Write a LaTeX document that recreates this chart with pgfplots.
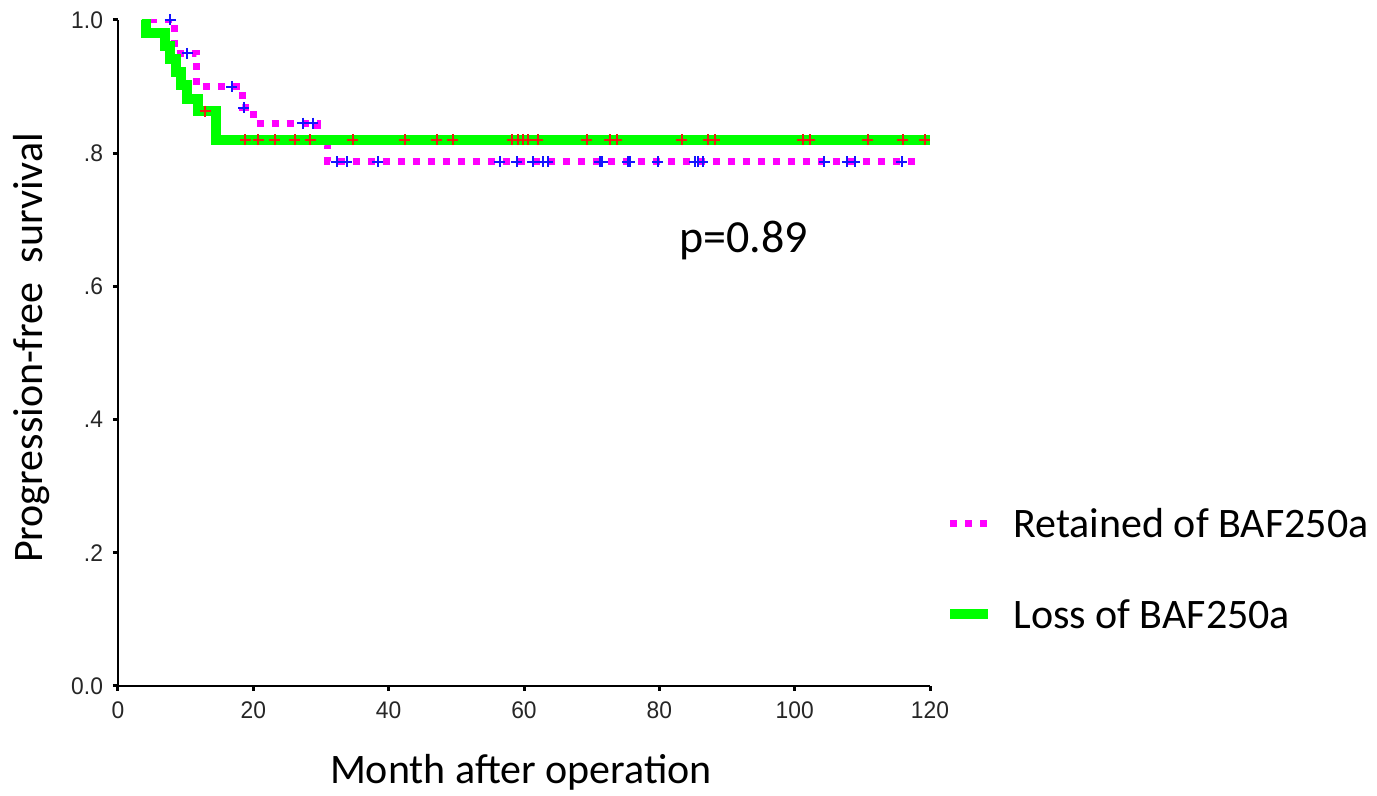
\documentclass[border=0pt]{standalone}
\usepackage{fontspec}
\setmainfont{Carlito}
\newfontfamily\tickfont[FakeStretch=0.95]{Liberation Sans}
\usepackage{pgfplots}
\pgfplotsset{compat=1.18}
\definecolor{kmgreen}{RGB}{0,255,0}
\definecolor{kmmagenta}{RGB}{255,0,255}
\definecolor{kmred}{RGB}{235,30,20}
\definecolor{kmblue}{RGB}{20,20,255}

\begin{document}
\begin{tikzpicture}
\path[use as bounding box] (-59pt,-55pt) rectangle (629.5pt,343pt);
\begin{axis}[
  scale only axis, width=406pt, height=333pt,
  xmin=0, xmax=120, ymin=0, ymax=1,
  axis lines*=left,
  axis line style={line width=1pt},
  xtick={0,20,40,60,80,100,120}, xticklabels={0,20,40,60,80,100,120},
  ytick={0,0.2,0.4,0.6,0.8,1}, yticklabels={0.0,.2,.4,.6,.8,1.0},
  tick align=outside, major tick length=2.5pt,
  tick style={line width=1.5pt,black},
  tick label style={font=\tickfont\fontsize{12}{14}\selectfont, text=black!85},
  xticklabel style={yshift=-2pt},
  yticklabel style={xshift=-1.5pt},
  legend style={draw=none, fill=none, at={(1.0185,0.1765)}, anchor=west,
    inner sep=0pt, row sep=31pt, font=\fontsize{21}{25}\selectfont,
    nodes={inner sep=0pt, text depth=0pt}, cells={anchor=west}},
  legend image code/.code={\draw[#1] (0pt,0pt) -- (19pt,0pt); \path[draw=none] (0pt,0pt) -- (31.5pt,0pt);},
]
% Retained of BAF250a
\addplot[const plot, kmmagenta, line width=3.5pt, dash pattern=on 3.5pt off 4pt] coordinates {
 (4.7,1.0) (8.4,0.95) (11.6,0.90) (18.4,0.868) (20.0,0.845) (29.5,0.812) (31.0,0.787) (118.5,0.787)};
% Loss of BAF250a
\addplot[const plot, kmgreen, line width=5pt] coordinates {
 (3.5,1.0) (4.2,0.980) (6.9,0.961) (7.7,0.941) (8.5,0.922) (9.3,0.902) (10.2,0.882) (11.8,0.863) (14.5,0.82) (120,0.82)};
\legend{Retained of BAF250a, Loss of BAF250a}
% censored, retained
\addplot[only marks, mark=+, mark size=2.75pt, kmblue, mark options={line width=1pt}, forget plot] coordinates {
 (7.7,1.0) (10.2,0.95) (16.8,0.90) (18.6,0.868) (27.3,0.845) (28.8,0.845)
 (32.3,0.787) (33.8,0.787) (38.4,0.787) (56.4,0.787) (58.9,0.787) (61.3,0.787) (62.8,0.787) (63.5,0.787)
 (71.2,0.787) (71.6,0.787) (75.3,0.787) (75.6,0.787) (79.8,0.787) (85.2,0.787) (85.7,0.787) (86.4,0.787)
 (104.4,0.787) (107.8,0.787) (108.9,0.787) (115.8,0.787)};
% censored, loss
\addplot[only marks, mark=+, mark size=2.75pt, kmred, mark options={line width=1pt}, forget plot] coordinates {
 (12.9,0.863) (18.8,0.82) (20.7,0.82) (23.2,0.82) (26.1,0.82) (28.4,0.82) (34.7,0.82) (42.4,0.82)
 (47.1,0.82) (49.5,0.82) (58.3,0.82) (59.1,0.82) (59.8,0.82) (60.6,0.82) (62.0,0.82) (69.3,0.82)
 (72.7,0.82) (73.7,0.82) (83.3,0.82) (87.2,0.82) (88.2,0.82) (101.2,0.82) (102.2,0.82) (110.8,0.82)
 (116.0,0.82) (119.2,0.82)};
\end{axis}
\node[anchor=base, font=\fontsize{21}{25}\selectfont] at (201.5pt,-49pt) {Month after operation};
\node[anchor=base, rotate=90, font=\fontsize{21}{25}\selectfont] at (-38pt,169pt) {Progression-free\ \ survival};
\node[anchor=base west, font=\fontsize{23}{27}\selectfont] at (277pt,216.5pt) {p=0.89};
\end{tikzpicture}
\end{document}
